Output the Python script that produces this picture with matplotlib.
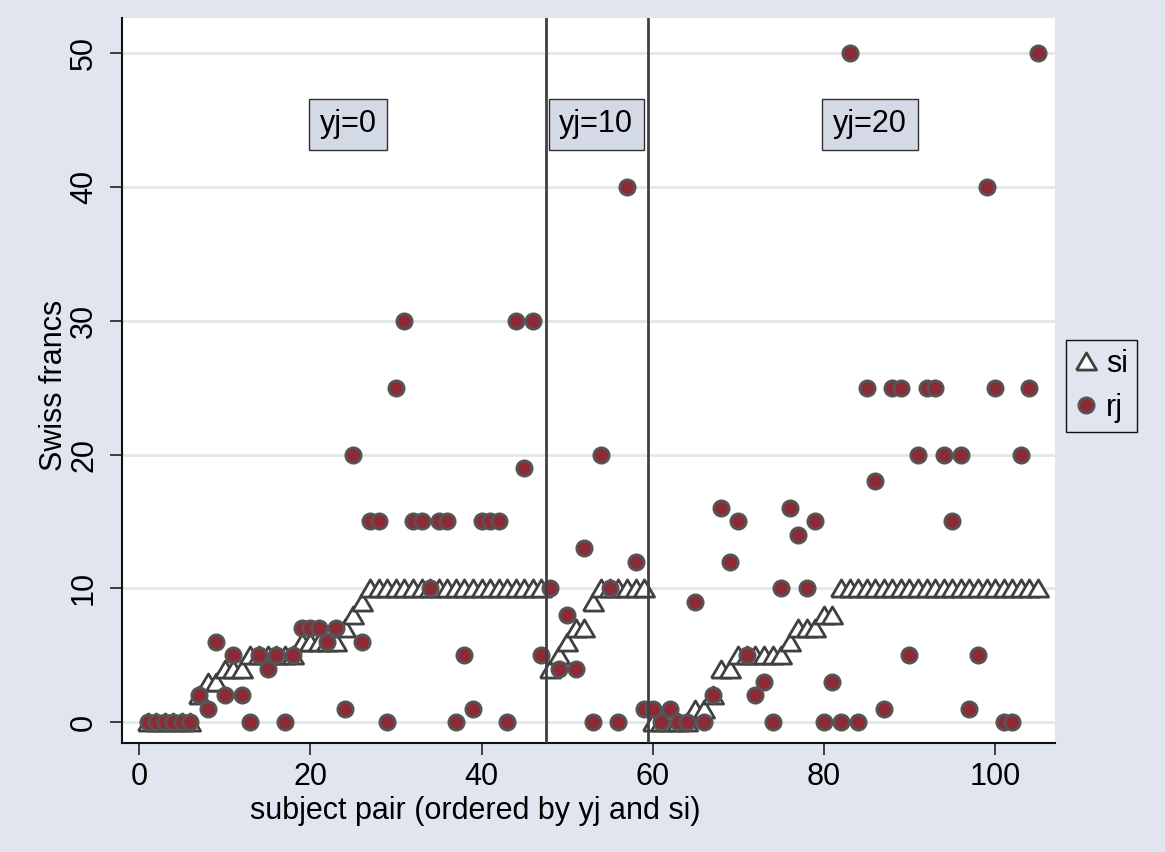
import numpy as np
import matplotlib
matplotlib.use('Agg')
import matplotlib.pyplot as plt

plt.rcParams['font.family'] = ['Liberation Sans', 'DejaVu Sans']

# group sizes for yj = 0, 10, 20
group_names = ['yj=0', 'yj=10', 'yj=20']
group_sizes = [47, 12, 46]

# si (triangles) for each subject pair, ordered by yj and si
si = [0, 0, 0, 0, 0, 0, 2, 3, 3, 4, 4, 4, 5, 5, 5, 5, 5, 5, 6, 6,
      6, 6, 6, 7, 8, 9, 10, 10, 10, 10, 10, 10, 10, 10, 10, 10, 10, 10, 10, 10,
      10, 10, 10, 10, 10, 10, 10,
      4, 5, 6, 7, 7, 9, 10, 10, 10, 10, 10, 10,
      0, 0, 0, 0, 0, 1, 1, 2, 4, 4, 5, 5, 5, 5, 5, 5, 6, 7, 7, 7,
      8, 8, 10, 10, 10, 10, 10, 10, 10, 10, 10, 10, 10, 10, 10, 10, 10, 10, 10, 10,
      10, 10, 10, 10, 10, 10]

# rj (circles)
rj = [0, 0, 0, 0, 0, 0, 2, 1, 6, 2, 5, 2, 0, 5, 4, 5, 0, 5, 7, 7,
      7, 6, 7, 1, 20, 6, 15, 15, 0, 25, 30, 15, 15, 10, 15, 15, 0, 5, 1, 15,
      15, 15, 0, 30, 19, 30, 5,
      10, 4, 8, 4, 13, 0, 20, 10, 0, 40, 12, 1,
      1, 0, 1, 0, 0, 9, 0, 2, 16, 12, 15, 5, 2, 3, 0, 10, 16, 14, 10, 15,
      0, 3, 0, 50, 0, 25, 18, 1, 25, 25, 5, 20, 25, 25, 20, 15, 20, 1, 5, 40,
      25, 0, 0, 20, 25, 50]

pair = np.arange(1, len(si) + 1)
breaks = np.cumsum(group_sizes)[:-1] + 0.5
label_x = [24.4, 53.4, 85.4]

bg = '#E0E5EF'
fs = 22
fig = plt.figure(figsize=(11.65, 8.52), dpi=100, facecolor=bg)
ax = fig.add_axes([122/1165, 1 - 743/852, 933/1165, 725/852])
ax.set_facecolor('white')

# horizontal grid
for g in range(0, 51, 10):
    ax.axhline(g, color='#E6E6E6', lw=2, zorder=0)

# triangle marker, a bit wider than tall like stata
tri = [(-1, -0.85), (1, -0.85), (0, 0.85), (-1, -0.85)]
ax.plot(pair, si, linestyle='none', marker=tri, ms=14.5, mfc='white',
        mec='#404040', mew=2, label='si', zorder=3)
ax.plot(pair, rj, linestyle='none', marker='o', ms=11, mfc='#8C2A36',
        mec='#555555', mew=2, label='rj', zorder=4)

for b in breaks:
    ax.axvline(b, color='#404040', lw=2, zorder=5)

for name, lx in zip(group_names, label_x):
    ax.text(lx, 44.7, name, ha='center', va='center', fontsize=fs, zorder=6,
            bbox=dict(boxstyle='square,pad=0.35', fc='#D3DAE6', ec='#303030', lw=1))

ax.set_xlim(-2.0, 107.0)
ax.set_ylim(-1.57, 52.65)
ax.set_xticks([0, 20, 40, 60, 80, 100])
ax.set_yticks([0, 10, 20, 30, 40, 50])
ax.tick_params(axis='both', labelsize=fs, length=8.5, width=1.2, color='#222222')
ax.tick_params(axis='x', pad=5)
ax.tick_params(axis='y', pad=8)
for t in ax.get_yticklabels():
    t.set_rotation(90)
    t.set_va('center')

for s in ['top', 'right']:
    ax.spines[s].set_visible(False)
for s in ['left', 'bottom']:
    ax.spines[s].set_linewidth(1.5)
    ax.spines[s].set_color('#111111')

ax.set_xlabel('subject pair (ordered by yj and si)', fontsize=fs, va='center')
ax.xaxis.set_label_coords((475 - 122) / 933, (743 - 811) / 725)
ax.set_ylabel('Swiss francs', fontsize=fs, va='center')
ax.yaxis.set_label_coords((54 - 122) / 933, (743 - 385) / 725)

leg = ax.legend(loc='center left', bbox_to_anchor=((1066 - 122) / 933, (743 - 386) / 725),
                fontsize=fs, frameon=True, fancybox=False, framealpha=1,
                facecolor=bg, edgecolor='#111111', handlelength=0.7,
                handletextpad=0.3, borderpad=0.3, labelspacing=0.45, borderaxespad=0)
leg.get_frame().set_linewidth(1)

fig.savefig('out.png', dpi=100, facecolor=bg)
